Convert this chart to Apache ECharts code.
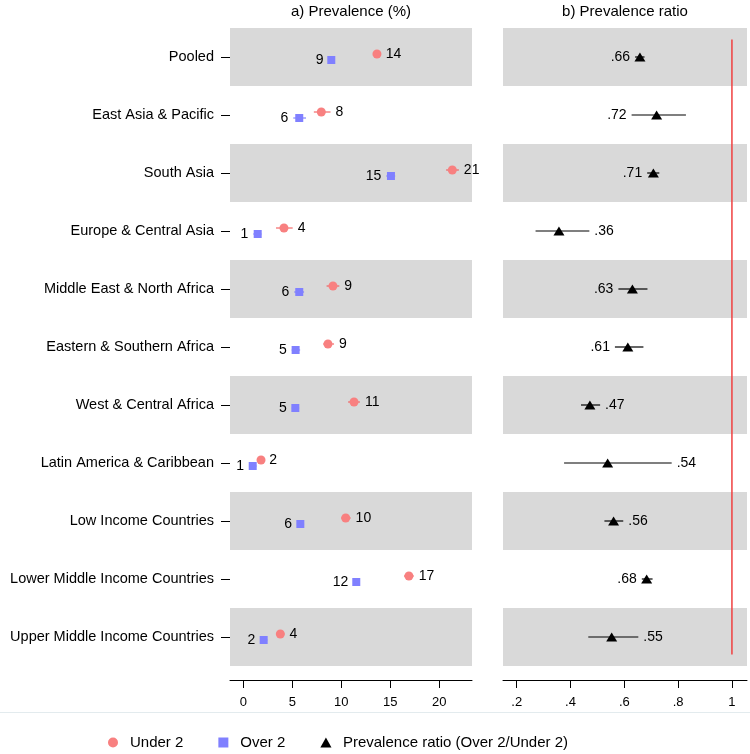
<!DOCTYPE html>
<html><head><meta charset="utf-8">
<script src="https://cdn.jsdelivr.net/npm/echarts@6/dist/echarts.min.js"></script>
<style>html,body{margin:0;padding:0;background:#fff}#c{width:750px;height:754px}</style>
</head><body><div id="c"></div>
<script>
// ---------- data ----------
const categories = ['Pooled', 'East Asia & Pacific', 'South Asia', 'Europe & Central Asia',
  'Middle East & North Africa', 'Eastern & Southern Africa', 'West & Central Africa',
  'Latin America & Caribbean', 'Low Income Countries', 'Lower Middle Income Countries',
  'Upper Middle Income Countries'];
const under2   = [13.64, 7.96, 21.33, 4.15, 9.15, 8.64, 11.3, 1.81, 10.45, 16.9, 3.78];
const under2Lo = [13.3, 7.2, 20.7, 3.34, 8.5, 8.16, 10.7, 1.5, 10.0, 16.4, 3.4];
const under2Hi = [14.02, 8.9, 22.0, 5.04, 9.8, 9.26, 11.9, 2.15, 10.95, 17.4, 4.2];
const over2    = [8.98, 5.71, 15.07, 1.47, 5.71, 5.34, 5.31, 0.96, 5.82, 11.53, 2.08];
const over2Lo  = [8.7, 5.1, 14.6, 1.02, 5.2, 4.94, 4.95, 0.58, 5.48, 11.22, 1.73];
const over2Hi  = [9.2, 6.4, 15.5, 1.85, 6.2, 5.8, 5.7, 1.35, 6.2, 11.9, 2.45];
const ratio    = [0.658, 0.72, 0.708, 0.357, 0.63, 0.613, 0.472, 0.538, 0.56, 0.683, 0.553];
const ratioLo  = [0.64, 0.627, 0.685, 0.27, 0.578, 0.565, 0.439, 0.376, 0.526, 0.665, 0.466];
const ratioHi  = [0.675, 0.829, 0.73, 0.47, 0.686, 0.671, 0.51, 0.776, 0.596, 0.705, 0.652];
const prevTicks = [0, 5, 10, 15, 20];
const ratioTicks = [0.2, 0.4, 0.6, 0.8, 1];
const refValue = 1;

// ---------- style ----------
const FONT = 'Liberation Sans, Arial, Helvetica, sans-serif';
const ratioLabelSide = ['left','left','left','right','left','left','right','right','right','left','right'];
const fmtRound = v => String(Math.round(v));
const fmtRatio = v => v.toFixed(2).replace(/^0/, '');

function ciSeries(xIdx, vals, los, his, dy, color, side, fmt, lw) {
  return {
    type: 'custom', xAxisIndex: xIdx, yAxisIndex: xIdx, z: 1, silent: true,
    data: vals.map((v, i) => [v, i, los[i], his[i]]),
    encode: { x: [0, 2, 3], y: 1 },
    renderItem(params, api) {
      const i = params.dataIndex;
      const cat = api.value(1);
      const a = api.coord([api.value(2), cat]);
      const b = api.coord([api.value(3), cat]);
      const y = a[1] + dy;
      const s = Array.isArray(side) ? side[i] : side;
      return { type: 'group', children: [
        { type: 'line', shape: { x1: a[0], y1: y, x2: b[0], y2: y }, style: { stroke: color, lineWidth: lw } },
        { type: 'text', style: { text: fmt(api.value(0)), x: s === 'right' ? b[0] + 5 : a[0] - 5, y: y,
            align: s === 'right' ? 'left' : 'right', verticalAlign: 'middle', fill: '#000',
            fontSize: 14, fontFamily: FONT } }
      ]};
    }
  };
}

const chart = echarts.init(document.getElementById('c'), null, { renderer: 'canvas' });
const xCommon = {
  type: 'value', offset: 14,
  axisLine: { show: true, onZero: false, lineStyle: { color: '#000', width: 1 } },
  splitLine: { show: false }
};
const yCommon = {
  type: 'category', data: categories, inverse: true,
  axisLine: { show: false, onZero: false },
  splitLine: { show: false },
  splitArea: { show: true, interval: 0, areaStyle: { color: ['#d9d9d9', 'rgba(255,255,255,0)'] } }
};

chart.setOption({
  animation: false,
  backgroundColor: '#fff',
  textStyle: { fontFamily: FONT },
  title: [
    { text: 'a) Prevalence (%)', left: 351, top: 4, textAlign: 'center', padding: 0,
      textStyle: { fontSize: 15, fontWeight: 'normal', color: '#000', fontFamily: FONT } },
    { text: 'b) Prevalence ratio', left: 625, top: 4, textAlign: 'center', padding: 0,
      textStyle: { fontSize: 15, fontWeight: 'normal', color: '#000', fontFamily: FONT } }
  ],
  grid: [
    { left: 230, top: 28, width: 242, height: 638, outerBoundsMode: 'none' },
    { left: 503, top: 28, width: 244, height: 638, outerBoundsMode: 'none' }
  ],
  xAxis: [
    Object.assign({}, xCommon, { gridIndex: 0, min: -1.357, max: 23.34,
      axisTick: { show: true, length: 8, lineStyle: { color: '#000' }, customValues: prevTicks },
      axisLabel: { customValues: prevTicks, color: '#000', fontSize: 13, margin: 16, fontFamily: FONT } }),
    Object.assign({}, xCommon, { gridIndex: 1, min: 0.149, max: 1.056,
      axisTick: { show: true, length: 8, lineStyle: { color: '#000' }, customValues: ratioTicks },
      axisLabel: { customValues: ratioTicks, color: '#000', fontSize: 13, margin: 16, fontFamily: FONT,
        formatter: v => (v === 1 ? '1' : String(+v.toFixed(1)).replace(/^0/, '')) } })
  ],
  yAxis: [
    Object.assign({}, yCommon, { gridIndex: 0,
      axisTick: { show: true, alignWithLabel: true, interval: 0, length: 9, lineStyle: { color: '#000' } },
      axisLabel: { show: true, interval: 0, color: '#000', fontSize: 14.5, margin: 16, fontFamily: FONT } }),
    Object.assign({}, yCommon, { gridIndex: 1,
      axisTick: { show: false }, axisLabel: { show: false } })
  ],
  legend: {
    left: 103, top: 730, itemWidth: 24, itemHeight: 10, itemGap: 35, selectedMode: false,
    textStyle: { fontSize: 15, color: '#000', fontFamily: FONT },
    data: [
      { name: 'Under 2', icon: 'circle' },
      { name: 'Over 2', icon: 'path://M0,0H10V10H0Z' },
      { name: 'Prevalence ratio (Over 2/Under 2)', icon: 'path://M5,0L10,9L0,9Z' }
    ]
  },
  graphic: [
    { type: 'line', shape: { x1: 0, y1: 712.5, x2: 750, y2: 712.5 }, style: { stroke: '#e3ebee', lineWidth: 1 }, silent: true }
  ],
  series: [
    ciSeries(0, under2, under2Lo, under2Hi, -3, '#f04a4a', 'right', fmtRound, 1),
    ciSeries(0, over2, over2Lo, over2Hi, 3, '#6a6aff', 'left', fmtRound, 1),
    { name: 'Under 2', type: 'scatter', xAxisIndex: 0, yAxisIndex: 0, z: 3, silent: true,
      symbol: 'circle', symbolSize: 9, symbolOffset: [0, -3],
      itemStyle: { color: '#f88080', opacity: 1 },
      data: under2.map((v, i) => [v, i]) },
    { name: 'Over 2', type: 'scatter', xAxisIndex: 0, yAxisIndex: 0, z: 3, silent: true,
      symbol: 'rect', symbolSize: 8, symbolOffset: [0, 3],
      itemStyle: { color: '#8080ff', opacity: 1 },
      data: over2.map((v, i) => [v, i]) },
    ciSeries(1, ratio, ratioLo, ratioHi, 0, '#000', ratioLabelSide, fmtRatio, 1.2),
    { name: 'Prevalence ratio (Over 2/Under 2)', type: 'scatter', xAxisIndex: 1, yAxisIndex: 1, z: 3, silent: true,
      symbol: 'triangle', symbolSize: [11, 9],
      itemStyle: { color: '#000', opacity: 1 },
      data: ratio.map((v, i) => [v, i]) },
    { type: 'custom', xAxisIndex: 1, yAxisIndex: 1, z: 2, silent: true,
      data: [[refValue, 0]], encode: { x: 0, y: 1 },
      renderItem(params, api) {
        const bw = api.size([0, 1])[1];
        const t = api.coord([api.value(0), 0]);
        const b = api.coord([api.value(0), categories.length - 1]);
        return { type: 'line', shape: { x1: t[0], y1: t[1] - 0.3 * bw, x2: b[0], y2: b[1] + 0.3 * bw },
                 style: { stroke: '#f04040', lineWidth: 1.5 } };
      } }
  ]
});
</script>
</body></html>
